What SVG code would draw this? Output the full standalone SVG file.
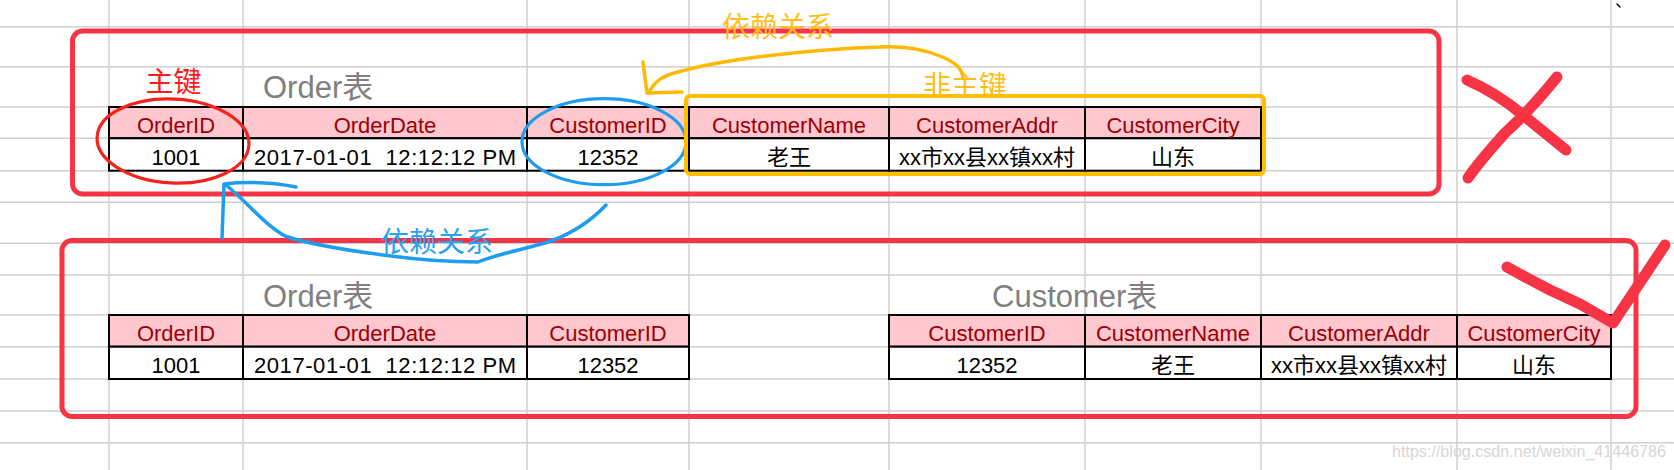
<svg xmlns="http://www.w3.org/2000/svg" width="1674" height="470" viewBox="0 0 1674 470">
<style>
.grid line{stroke:#cfcfcf;stroke-width:1.5}
.hd{fill:#FFC7CE;stroke:#000;stroke-width:2}
.cell{fill:#fff;stroke:#000;stroke-width:2}
.ht{font-family:"Liberation Sans","Noto Sans CJK SC",sans-serif;font-size:22px;fill:#9C0006;text-anchor:middle}
.dt{font-family:"Liberation Sans","Noto Sans CJK SC",sans-serif;font-size:22px;fill:#000;text-anchor:middle}
.title{font-family:"Liberation Sans","Noto Sans CJK SC",sans-serif;font-size:31px;fill:#808080}
.lbl{font-family:"Noto Sans CJK SC",sans-serif;font-size:28px}
.box{fill:none;stroke:#f73446;stroke-width:5}
.pen{fill:none;stroke-linecap:round;stroke-linejoin:round}
</style>
<rect width="1674" height="470" fill="#fff"/>
<g id="grid" class="grid">
<line x1="109" y1="0" x2="109" y2="470"/><line x1="243" y1="0" x2="243" y2="470"/><line x1="527" y1="0" x2="527" y2="470"/><line x1="689" y1="0" x2="689" y2="470"/><line x1="889" y1="0" x2="889" y2="470"/><line x1="1085" y1="0" x2="1085" y2="470"/><line x1="1261" y1="0" x2="1261" y2="470"/><line x1="1457" y1="0" x2="1457" y2="470"/><line x1="1611" y1="0" x2="1611" y2="470"/>
<line x1="0" y1="26.7" x2="1674" y2="26.7"/><line x1="0" y1="66.7" x2="1674" y2="66.7"/><line x1="0" y1="107" x2="1674" y2="107"/><line x1="0" y1="138.3" x2="1674" y2="138.3"/><line x1="0" y1="170.7" x2="1674" y2="170.7"/><line x1="0" y1="202.3" x2="1674" y2="202.3"/><line x1="0" y1="243.3" x2="1674" y2="243.3"/><line x1="0" y1="275" x2="1674" y2="275"/><line x1="0" y1="315" x2="1674" y2="315"/><line x1="0" y1="346.7" x2="1674" y2="346.7"/><line x1="0" y1="379" x2="1674" y2="379"/><line x1="0" y1="411" x2="1674" y2="411"/><line x1="0" y1="442.7" x2="1674" y2="442.7"/>
</g>
<g id="wrong-order-table">
<text class="title" x="263" y="98">Order表</text>
<rect class="hd" x="109" y="107" width="134" height="31.3"/><rect class="hd" x="243" y="107" width="284" height="31.3"/><rect class="hd" x="527" y="107" width="162" height="31.3"/><rect class="hd" x="689" y="107" width="200" height="31.3"/><rect class="hd" x="889" y="107" width="196" height="31.3"/><rect class="hd" x="1085" y="107" width="176" height="31.3"/>
<rect class="cell" x="109" y="138.3" width="134" height="32.4"/><rect class="cell" x="243" y="138.3" width="284" height="32.4"/><rect class="cell" x="527" y="138.3" width="162" height="32.4"/><rect class="cell" x="689" y="138.3" width="200" height="32.4"/><rect class="cell" x="889" y="138.3" width="196" height="32.4"/><rect class="cell" x="1085" y="138.3" width="176" height="32.4"/>
<text class="ht" x="176" y="133">OrderID</text><text class="ht" x="385" y="133">OrderDate</text><text class="ht" x="608" y="133">CustomerID</text><text class="ht" x="789" y="133">CustomerName</text><text class="ht" x="987" y="133">CustomerAddr</text><text class="ht" x="1173" y="133">CustomerCity</text>
<text class="dt" x="176" y="164.5">1001</text><text class="dt" x="385" y="164.5" xml:space="preserve" textLength="262" lengthAdjust="spacing">2017-01-01  12:12:12 PM</text><text class="dt" x="608" y="164.5">12352</text><text class="dt" x="789" y="164.5">老王</text><text class="dt" x="987" y="164.5">xx市xx县xx镇xx村</text><text class="dt" x="1173" y="164.5">山东</text>
</g>
<g id="right-order-table">
<text class="title" x="263" y="307">Order表</text>
<rect class="hd" x="109" y="315" width="134" height="31.7"/><rect class="hd" x="243" y="315" width="284" height="31.7"/><rect class="hd" x="527" y="315" width="162" height="31.7"/>
<rect class="cell" x="109" y="346.7" width="134" height="32.3"/><rect class="cell" x="243" y="346.7" width="284" height="32.3"/><rect class="cell" x="527" y="346.7" width="162" height="32.3"/>
<text class="ht" x="176" y="341">OrderID</text><text class="ht" x="385" y="341">OrderDate</text><text class="ht" x="608" y="341">CustomerID</text>
<text class="dt" x="176" y="372.7">1001</text><text class="dt" x="385" y="372.7" xml:space="preserve" textLength="262" lengthAdjust="spacing">2017-01-01  12:12:12 PM</text><text class="dt" x="608" y="372.7">12352</text>
</g>
<g id="right-customer-table">
<text class="title" x="992" y="307">Customer表</text>
<rect class="hd" x="889" y="315" width="196" height="31.7"/><rect class="hd" x="1085" y="315" width="176" height="31.7"/><rect class="hd" x="1261" y="315" width="196" height="31.7"/><rect class="hd" x="1457" y="315" width="154" height="31.7"/>
<rect class="cell" x="889" y="346.7" width="196" height="32.3"/><rect class="cell" x="1085" y="346.7" width="176" height="32.3"/><rect class="cell" x="1261" y="346.7" width="196" height="32.3"/><rect class="cell" x="1457" y="346.7" width="154" height="32.3"/>
<text class="ht" x="987" y="341">CustomerID</text><text class="ht" x="1173" y="341">CustomerName</text><text class="ht" x="1359" y="341">CustomerAddr</text><text class="ht" x="1534" y="341">CustomerCity</text>
<text class="dt" x="987" y="372.7">12352</text><text class="dt" x="1173" y="372.7">老王</text><text class="dt" x="1359" y="372.7">xx市xx县xx镇xx村</text><text class="dt" x="1534" y="372.7">山东</text>
</g>
<g id="wrong-box"><rect class="box" x="72.5" y="31" width="1366.5" height="163" rx="10"/></g>
<g id="right-box"><rect class="box" x="62" y="240.5" width="1574" height="176" rx="10"/></g>
<g id="primary-key"><ellipse cx="173" cy="141" rx="76" ry="42" transform="rotate(3 173 141)" fill="none" stroke="#f5231d" stroke-width="3.2"/><text class="lbl" x="173.5" y="92" text-anchor="middle" fill="#ff1a1a">主键</text></g>
<g id="customer-id-mark"><ellipse cx="604" cy="141.7" rx="82" ry="43" fill="none" stroke="#1e9cf0" stroke-width="3.2"/></g>
<g id="non-key"><rect x="686" y="96" width="578" height="78" rx="4" fill="none" stroke="#ffbf00" stroke-width="4"/><text class="lbl" x="965" y="96" text-anchor="middle" fill="#ffbf1a">非主键</text></g>
<g id="connectors">
<path class="pen" stroke="#ffb900" stroke-width="3.5" d="M963,78 C962,68 955,62 940,56 C920,48 900,46 880,47 C840,48 790,53 750,58 C720,62 690,68 668,75 C655,80 652,88 648,93"/>
<path class="pen" stroke="#ffb900" stroke-width="3.5" d="M643,62 L647,93 L682,92"/>
<path class="pen" stroke="#1e9cf0" stroke-width="3.5" d="M606,205 C590,222 570,235 545,243 C520,250 495,255 478,262 C455,262 420,260 383,255 C345,250 305,243 285,236 C265,225 250,205 226,185"/>
<path class="pen" stroke="#1e9cf0" stroke-width="3.5" d="M222,238 L224,184 C250,181 275,183 296,187"/>
</g>
<g id="labels">
<text class="lbl" x="778" y="37" text-anchor="middle" fill="#ffbf1a">依赖关系</text>
<text class="lbl" x="437" y="252" text-anchor="middle" fill="#2aa0f0">依赖关系</text>
</g>
<g id="marks">
<path class="pen" stroke="#f73446" stroke-width="11" d="M1467,80 C1490,90 1505,100 1523,115 L1566,150"/>
<path class="pen" stroke="#f73446" stroke-width="11" d="M1557,77 C1540,98 1525,115 1505,133 C1490,150 1478,163 1468,178"/>
<path class="pen" stroke="#f73446" stroke-width="11" d="M1507,267 C1525,277 1540,285 1550,290 L1580,304 L1613,323 L1633,293 L1665,245"/>
<path class="pen" stroke="#000" stroke-width="1.5" d="M1617,4 L1620,7"/>
</g>
<text x="1392" y="457" font-family="Liberation Sans,sans-serif" font-size="16" fill="#d6d6d6" textLength="274" lengthAdjust="spacingAndGlyphs">https://blog.csdn.net/weixin_41446786</text>
</svg>
